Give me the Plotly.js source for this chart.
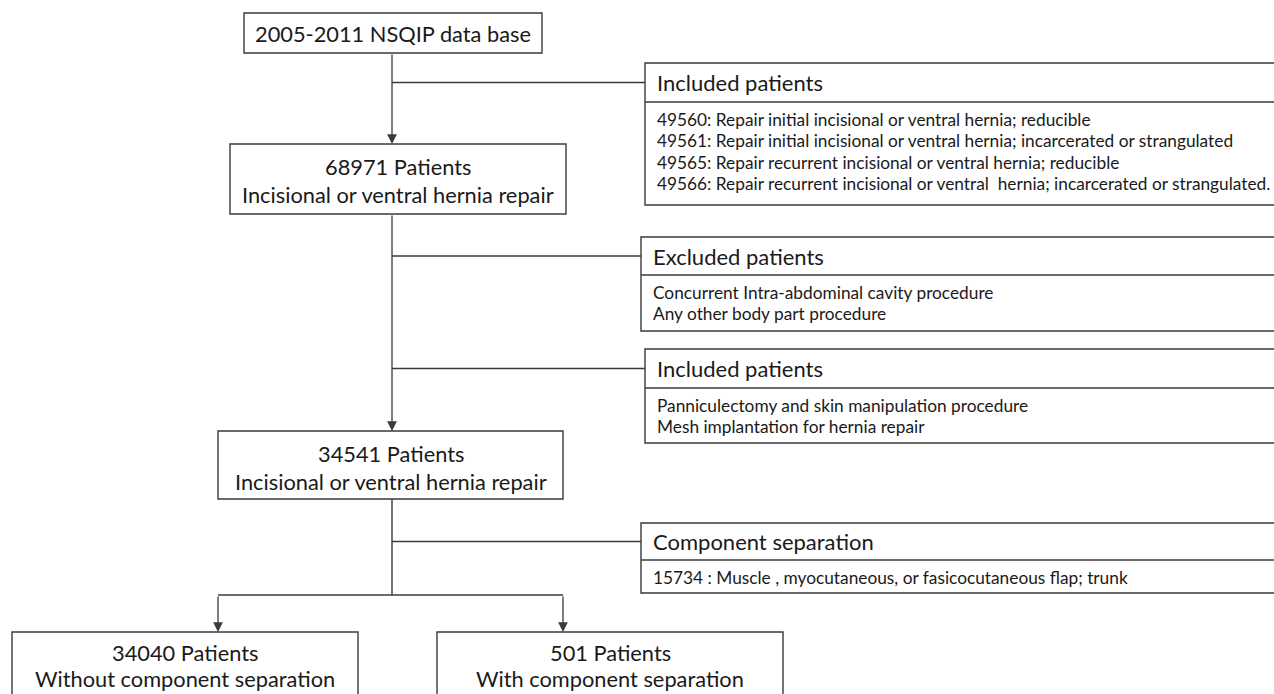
<!DOCTYPE html>
<html><head><meta charset="utf-8">
<script src="https://cdn.plot.ly/plotly-3.0.1.min.js"></script>
<style>html,body{margin:0;padding:0;background:#fff}#chart{width:1274px;height:694px}</style>
</head><body><div id="chart"></div>
<script>
// ---- content (data) ----
const startLabel = "2005-2011 NSQIP data base";
const patientCounts = [68971, 34541, 34040, 501];
const nodeSubtitles = [
  "Incisional or ventral hernia repair",
  "Incisional or ventral hernia repair",
  "Without component separation",
  "With component separation"
];
const sideHeaders = ["Included patients", "Excluded patients", "Included patients", "Component separation"];
const sideDetails = [
  ["49560: Repair initial incisional or ventral hernia; reducible",
   "49561: Repair initial incisional or ventral hernia; incarcerated or strangulated",
   "49565: Repair recurrent incisional or ventral hernia; reducible",
   "49566: Repair recurrent incisional or ventral\u00a0 hernia; incarcerated or strangulated."],
  ["Concurrent Intra-abdominal cavity procedure", "Any other body part procedure"],
  ["Panniculectomy and skin manipulation procedure", "Mesh implantation for hernia repair"],
  ["15734 : Muscle , myocutaneous, or fasicocutaneous flap; trunk"]
];

// ---- layout geometry (pixels, y downward) ----
const LINE = "#3a3a3a", TXT = "#1a1a1a", FONT = "Lato, 'Open Sans', sans-serif";
const MAIN_SIZE = 21.8, HEAD_SIZE = 22, BODY_SIZE = 17.3;
const trunkX = 392;
const startBox = {x0: 244, x1: 542, y0: 13, y1: 53};
const nodeBoxes = [
  {x0: 230, x1: 566, y0: 144, y1: 214, t1: 22, t2: 50},
  {x0: 218, x1: 563, y0: 431, y1: 499, t1: 22, t2: 50},
  {x0: 12,  x1: 358, y0: 632, y1: 710, t1: 20, t2: 46},
  {x0: 437, x1: 783, y0: 632, y1: 710, t1: 20, t2: 46}
];
const sideBoxes = [
  {x0: 645, y0: 63,  yd: 102, y1: 205, lineGap: 21.5},
  {x0: 641, y0: 237, yd: 275, y1: 331, lineGap: 21.5},
  {x0: 645, y0: 349, yd: 388, y1: 443, lineGap: 21.5},
  {x0: 641, y0: 523, yd: 560, y1: 593, lineGap: 21.5}
];
const splitY = 595;
const branchX = [218, 563];

const shapes = [];
const annotations = [];
function rect(b) {
  shapes.push({type: "rect", xref: "x", yref: "y", x0: b.x0, x1: b.x1, y0: b.y0, y1: b.y1,
    line: {color: LINE, width: 1.4}, fillcolor: "white", layer: "below"});
}
function seg(x0, y0, x1, y1) {
  shapes.push({type: "line", xref: "x", yref: "y", x0, y0, x1, y1, line: {color: LINE, width: 1.4}});
}
function arrow(x0, y0, x1, y1) {
  annotations.push({x: x1, y: y1, ax: x0, ay: y0, xref: "x", yref: "y", axref: "x", ayref: "y",
    text: "", showarrow: true, arrowhead: 2, arrowsize: 1.5, arrowwidth: 1.3, arrowcolor: LINE, standoff: 0});
}
function label(x, y, text, size, anchor) {
  annotations.push({x, y, xref: "x", yref: "y", text, showarrow: false, xanchor: anchor || "center",
    yanchor: "middle", font: {family: FONT, size, color: TXT}});
}

// start box
rect(startBox);
label((startBox.x0 + startBox.x1) / 2, (startBox.y0 + startBox.y1) / 2, startLabel, MAIN_SIZE);

// main nodes
nodeBoxes.forEach((b, i) => {
  rect(b);
  const cx = (b.x0 + b.x1) / 2;
  label(cx, b.y0 + b.t1, patientCounts[i] + " Patients", MAIN_SIZE);
  label(cx, b.y0 + b.t2, nodeSubtitles[i], MAIN_SIZE);
});

// side boxes
sideBoxes.forEach((s, i) => {
  rect({x0: s.x0, x1: 1300, y0: s.y0, y1: s.y1});
  seg(s.x0, s.yd, 1300, s.yd);
  const hy = (s.y0 + s.yd) / 2;
  seg(trunkX, hy, s.x0, hy);
  label(s.x0 + 10, hy, sideHeaders[i], HEAD_SIZE, "left");
  sideDetails[i].forEach((t, j) => {
    label(s.x0 + 10, s.yd + 17 + j * s.lineGap, t, BODY_SIZE, "left");
  });
});

// trunk and arrows
arrow(trunkX, startBox.y1, trunkX, nodeBoxes[0].y0);
arrow(trunkX, nodeBoxes[0].y1, trunkX, nodeBoxes[1].y0);
seg(trunkX, nodeBoxes[1].y1, trunkX, splitY);
seg(branchX[0], splitY, branchX[1], splitY);
arrow(branchX[0], splitY, branchX[0], nodeBoxes[2].y0);
arrow(branchX[1], splitY, branchX[1], nodeBoxes[3].y0);

const layout = {
  width: 1274, height: 694,
  margin: {l: 0, r: 0, t: 0, b: 0},
  paper_bgcolor: "white", plot_bgcolor: "white",
  xaxis: {range: [0, 1274], visible: false, fixedrange: true},
  yaxis: {range: [694, 0], visible: false, fixedrange: true},
  shapes, annotations, showlegend: false
};
Plotly.newPlot("chart", [{x: [], y: [], type: "scatter", hoverinfo: "skip"}], layout, {staticPlot: true, displayModeBar: false});
</script></body></html>
